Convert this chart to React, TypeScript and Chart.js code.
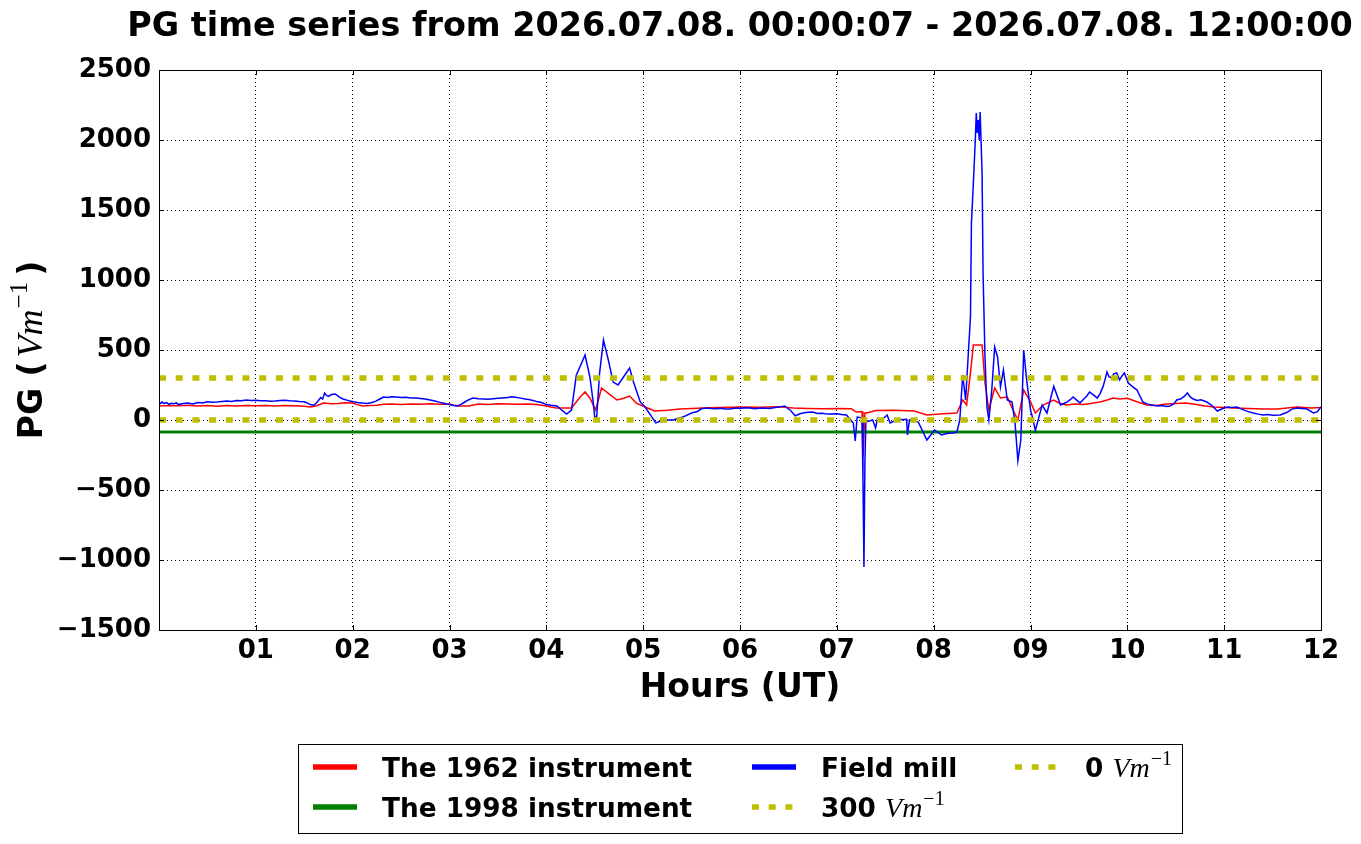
import { useEffect, useRef } from 'react'
import { Chart, registerables, type ChartConfiguration, type Plugin } from 'chart.js'

Chart.register(...registerables)

const SANS = '"DejaVu Sans", sans-serif'
const SERIF = '"Liberation Serif", "DejaVu Serif", serif'
const RED = '#ff0000'
const GREEN = '#008000'
const BLUE = '#0000ff'
const OLIVE = '#bfbf00'

const titleText = 'PG time series from 2026.07.08. 00:00:07 - 2026.07.08. 12:00:00'

// field mill (blue), hours UT and V/m
const fieldMillHours = [
  0.0, 0.03, 0.05, 0.08, 0.1, 0.13, 0.15, 0.18, 0.2, 0.25, 0.3, 0.35, 0.4, 0.45, 0.5, 0.55, 0.6,
  0.65, 0.7, 0.75, 0.8, 0.85, 0.9, 0.95, 1.0, 1.05, 1.1, 1.15, 1.2, 1.25, 1.3, 1.35, 1.4, 1.45,
  1.5, 1.53, 1.56, 1.6, 1.63, 1.67, 1.69, 1.71, 1.73, 1.75, 1.78, 1.82, 1.86, 1.9, 1.94, 1.97,
  2.01, 2.05, 2.1, 2.15, 2.2, 2.24, 2.28, 2.32, 2.36, 2.4, 2.45, 2.5, 2.55, 2.6, 2.66, 2.7, 2.75,
  2.8, 2.85, 2.9, 2.93, 2.97, 3.0, 3.04, 3.08, 3.12, 3.15, 3.2, 3.24, 3.3, 3.35, 3.4, 3.45, 3.5,
  3.55, 3.6, 3.64, 3.68, 3.72, 3.78, 3.82, 3.86, 3.9, 3.95, 4.0,
  4.05, 4.11, 4.16, 4.21, 4.26, 4.31, 4.36, 4.4, 4.45, 4.48, 4.5, 4.52, 4.55, 4.59, 4.64, 4.69,
  4.74, 4.79, 4.86, 4.9, 4.97, 5.02, 5.09, 5.13, 5.21, 5.31, 5.41, 5.5, 5.56, 5.6, 5.66, 5.7,
  5.75, 5.8, 5.85, 5.9, 5.95, 6.0, 6.05, 6.1, 6.15, 6.2, 6.24, 6.3, 6.35, 6.4, 6.46, 6.52, 6.57,
  6.62, 6.65, 6.7, 6.75, 6.8, 6.85, 6.9, 6.93, 7.0, 7.05, 7.1, 7.17, 7.19, 7.21,
  7.26, 7.27, 7.28, 7.29, 7.3, 7.37, 7.4, 7.42, 7.46, 7.52, 7.55, 7.62, 7.72, 7.73, 7.75, 7.84,
  7.93, 8.01, 8.08, 8.15, 8.2, 8.24, 8.27, 8.3, 8.33, 8.36, 8.38, 8.39, 8.41, 8.43, 8.44, 8.45,
  8.46, 8.47, 8.48, 8.5, 8.51, 8.53, 8.55, 8.57, 8.6, 8.63, 8.66, 8.69, 8.72, 8.76, 8.81, 8.84,
  8.87, 8.9, 8.93, 8.96, 9.0, 9.02, 9.05, 9.12, 9.17, 9.24,
  9.31, 9.35, 9.38, 9.41, 9.44, 9.48, 9.51, 9.55, 9.58, 9.61, 9.65, 9.69, 9.72, 9.75, 9.77, 9.79,
  9.81, 9.84, 9.86, 9.89, 9.92, 9.95, 9.97, 10.01, 10.05, 10.1, 10.13, 10.16, 10.2, 10.25, 10.31,
  10.36, 10.4, 10.44, 10.48, 10.51, 10.55, 10.59, 10.62, 10.65, 10.68, 10.72, 10.76, 10.82,
  10.87, 10.93, 10.98, 11.03, 11.08, 11.13, 11.2, 11.25, 11.3, 11.35, 11.4, 11.45, 11.5, 11.58,
  11.65, 11.7, 11.75, 11.8, 11.85, 11.9, 11.92, 11.96, 12.0,
]
const fieldMillValues = [
  110, 128, 118, 124, 112, 120, 116, 122, 110, 118, 121, 115, 125, 122, 130, 127, 128,
  133, 135, 132, 140, 138, 143, 139, 141, 137, 138, 134, 136, 139, 141, 137, 135, 132,
  130, 122, 110, 105, 125, 160, 150, 193, 175, 168, 182, 186, 165, 150, 142, 136,
  130, 125, 121, 118, 125, 135, 150, 164, 160, 166, 165, 161, 162, 158, 157, 154, 150,
  143, 135, 126, 121, 114, 110, 104, 100, 112, 125, 145, 157, 152, 150, 148, 152, 155,
  158, 160, 166, 162, 158, 150, 147, 140, 132, 125, 110,
  105, 100, 70, 43, 71, 321, 400, 464, 307, 150, 21, 21, 336, 571, 429, 271,
  250, 300, 371, 271, 129, 93, 21, -21, 0, 0, 21, 50, 60, 80, 86, 82,
  80, 84, 78, 79, 85, 82, 88, 85, 80, 84, 86, 83, 88, 92, 100, 70, 30,
  45, 50, 55, 57, 46, 48, 42, 43, 45, 40, 36, -21, -150, 21,
  15, -429, -1050, -300, -14, 0, -57, 10, 0, 36, -21, 0, 5, -107, 0, -14,
  -143, -71, -107, -95, -93, -86, 0, 321, 143, 500, 736, 1407, 1693, 2000, 2193, 2050,
  2143, 2000, 2200, 1764, 1050, 450, 93, 0, 214, 521, 450, 236, 357, 143, 129, -21,
  -290, -143, 500, 286, 71, 21, -75, 107, 50, 240,
  107, 120, 129, 145, 164, 140, 121, 150, 170, 200, 180, 157, 190, 240, 290, 343,
  310, 300, 330, 336, 286, 320, 336, 264, 240, 214, 170, 129, 115, 108, 100,
  104, 97, 100, 115, 143, 150, 170, 193, 165, 150, 140, 145, 129,
  105, 64, 80, 93, 90, 93, 72, 60, 50, 42, 36, 40, 34, 36,
  55, 78, 86, 82, 80, 60, 50, 58, 93,
]

// the 1962 instrument (red)
const inst1962Hours = [
  0.0, 0.1, 0.2, 0.3, 0.4, 0.5, 0.6, 0.7, 0.8, 0.9, 1.0, 1.1, 1.2, 1.3, 1.4, 1.5, 1.56, 1.62,
  1.7, 1.78, 1.85, 1.92, 2.0, 2.05, 2.1, 2.18, 2.25, 2.32, 2.4, 2.5, 2.6, 2.7, 2.8, 2.9, 3.0,
  3.05, 3.1, 3.2, 3.3, 3.4, 3.5, 3.6, 3.7, 3.8, 3.9, 4.0, 4.1, 4.26, 4.35, 4.4, 4.45, 4.51,
  4.57, 4.66, 4.73, 4.8, 4.86, 4.93, 5.02, 5.12, 5.25, 5.38, 5.5, 5.62, 5.8, 6.0, 6.2, 6.4,
  6.55, 6.7, 6.85, 7.0, 7.15, 7.2, 7.26, 7.27, 7.29, 7.31, 7.4, 7.6, 7.8, 7.93, 8.1, 8.24,
  8.3, 8.34, 8.38, 8.41, 8.5, 8.53, 8.57, 8.63, 8.69, 8.76, 8.82, 8.87, 8.93, 9.0, 9.05, 9.13,
  9.24, 9.3, 9.37, 9.45, 9.55, 9.65, 9.72, 9.8, 9.85, 9.92, 10.0, 10.1, 10.2, 10.3, 10.4,
  10.5, 10.6, 10.7, 10.8, 10.9, 11.0, 11.1, 11.25, 11.4, 11.55, 11.75, 11.9, 12.0,
]
const inst1962Values = [
  100, 104, 101, 106, 100, 103, 99, 104, 100, 103, 101, 104, 100, 103, 101, 98, 93, 100,
  121, 116, 118, 123, 121, 110, 100, 103, 105, 112, 114, 111, 115, 112, 116, 113, 114,
  106, 100, 100, 114, 111, 116, 114, 112, 115, 110, 100, 86, 86, 164, 200, 157, 71,
  229, 179, 143, 155, 171, 121, 93, 64, 70, 79, 82, 86, 90, 93, 91, 95,
  86, 82, 80, 82, 80, 57, 60, -264, 50, 50, 68, 70, 64, 36, 45, 50,
  143, 107, 336, 536, 536, 264, 71, 229, 157, 164, 71, 0, 214, 129, 50, 107,
  143, 120, 107, 115, 110, 122, 129, 145, 157, 150, 155, 130, 107, 104, 115,
  118, 121, 112, 100, 93, 90, 85, 82, 79, 78, 93, 85, 90,
]

// horizontal reference lines
const refHours = [0, 12]
const inst1998Values = [-85, -85]
const level300Values = [300, 300]
const level0Values = [0, 0]

const pts = (xs: number[], ys: number[]) => xs.map((x, i) => ({ x, y: ys[i] }))

type LegendItem = { text: string; math: boolean; color: string; dotted: boolean; col: number; row: number }
const legendItems: LegendItem[] = [
  { text: 'The 1962 instrument', math: false, color: RED, dotted: false, col: 0, row: 0 },
  { text: 'The 1998 instrument', math: false, color: GREEN, dotted: false, col: 0, row: 1 },
  { text: 'Field mill', math: false, color: BLUE, dotted: false, col: 1, row: 0 },
  { text: '300 ', math: true, color: OLIVE, dotted: true, col: 1, row: 1 },
  { text: '0 ', math: true, color: OLIVE, dotted: true, col: 2, row: 0 },
]

function drawVm(ctx: CanvasRenderingContext2D, x: number, base: number, size: number) {
  ctx.font = `italic ${size}px ${SERIF}`
  ctx.fillText('Vm', x, base)
  const w = ctx.measureText('Vm').width
  const sup = Math.round(size * 0.7)
  ctx.font = `${sup}px ${SERIF}`
  ctx.fillText('\u22121', x + w + 1, base - size * 0.42)
  return w + 1 + ctx.measureText('\u22121').width
}

const decor: Plugin<'line'> = {
  id: 'decor',
  afterDraw(chart) {
    const { ctx, chartArea: a } = chart
    const xs = chart.scales.x
    const ys = chart.scales.y
    ctx.save()
    ctx.setLineDash([])
    ctx.strokeStyle = '#000'
    ctx.lineWidth = 1
    ctx.beginPath()
    xs.ticks.forEach((t) => {
      const px = Math.round(xs.getPixelForValue(t.value)) + 0.5
      ctx.moveTo(px, a.top)
      ctx.lineTo(px, a.top + 5)
      ctx.moveTo(px, a.bottom)
      ctx.lineTo(px, a.bottom - 5)
    })
    ys.ticks.forEach((t) => {
      const py = Math.round(ys.getPixelForValue(t.value)) + 0.5
      ctx.moveTo(a.left, py)
      ctx.lineTo(a.left + 5, py)
      ctx.moveTo(a.right, py)
      ctx.lineTo(a.right - 5, py)
    })
    ctx.stroke()
    ctx.strokeRect(a.left + 0.5, a.top + 0.5, a.right - a.left, a.bottom - a.top)

    ctx.fillStyle = '#000'
    const cx = (a.left + a.right) / 2
    ctx.textAlign = 'center'
    ctx.textBaseline = 'alphabetic'
    ctx.font = `bold 33.4px ${SANS}`
    ctx.fillText(titleText, cx, 36)
    ctx.font = `bold 33px ${SANS}`
    ctx.fillText('Hours (UT)', cx, 697)

    // y axis title, rotated
    ctx.save()
    ctx.translate(42, (a.top + a.bottom) / 2)
    ctx.rotate(-Math.PI / 2)
    ctx.textAlign = 'left'
    ctx.font = `bold 33px ${SANS}`
    const p1 = 'PG ('
    const w1 = ctx.measureText(p1).width
    ctx.font = `italic 36px ${SERIF}`
    const wv = ctx.measureText('Vm').width
    ctx.font = `25px ${SERIF}`
    const ws = ctx.measureText('\u22121').width
    ctx.font = `bold 33px ${SANS}`
    const w3 = ctx.measureText(')').width
    const total = w1 + 4 + wv + 1 + ws + 6 + w3
    let x = -total / 2
    ctx.fillText(p1, x, 0)
    x += w1 + 4
    x += drawVm(ctx, x, 0, 36) + 6
    ctx.font = `bold 33px ${SANS}`
    ctx.fillText(')', x, 0)
    ctx.restore()

    // legend
    ctx.strokeStyle = '#000'
    ctx.lineWidth = 1
    ctx.strokeRect(298.5, 744.5, 884, 89)
    const sampleX = [313, 752, 1015]
    const textX = [382, 821, 1085]
    const rowY = [767, 807]
    legendItems.forEach((it) => {
      const y = rowY[it.row]
      ctx.beginPath()
      ctx.strokeStyle = it.color
      ctx.lineWidth = 5.5
      ctx.setLineDash(it.dotted ? [7, 9.7] : [])
      ctx.moveTo(sampleX[it.col], y)
      ctx.lineTo(sampleX[it.col] + 44, y)
      ctx.stroke()
      ctx.setLineDash([])
      ctx.fillStyle = '#000'
      ctx.textAlign = 'left'
      ctx.font = `bold 26.3px ${SANS}`
      ctx.fillText(it.text, textX[it.col], y + 10)
      if (it.math) {
        const tw = ctx.measureText(it.text).width
        drawVm(ctx, textX[it.col] + tw, y + 10, 28)
      }
    })
    ctx.restore()
  },
}

const tickFont = { family: SANS, size: 26, weight: 'bold' as const }

const chartConfig: ChartConfiguration<'line'> = {
  type: 'line',
  data: {
    datasets: [
      { label: 'The 1962 instrument', data: pts(inst1962Hours, inst1962Values), borderColor: RED, borderWidth: 1.5, order: 5 },
      { label: 'The 1998 instrument', data: pts(refHours, inst1998Values), borderColor: GREEN, borderWidth: 3, order: 4 },
      { label: 'Field mill', data: pts(fieldMillHours, fieldMillValues), borderColor: BLUE, borderWidth: 1.5, order: 3 },
      { label: '300 Vm-1', data: pts(refHours, level300Values), borderColor: OLIVE, borderWidth: 5.5, borderDash: [7, 9.7], order: 2 },
      { label: '0 Vm-1', data: pts(refHours, level0Values), borderColor: OLIVE, borderWidth: 5.5, borderDash: [7, 9.7], order: 1 },
    ],
  },
  options: {
    animation: false,
    responsive: true,
    maintainAspectRatio: false,
    layout: { padding: { top: 70, right: 40, bottom: 0, left: 0 } },
    elements: { point: { radius: 0 }, line: { tension: 0 } },
    plugins: {
      legend: { display: false },
      title: { display: false },
      tooltip: { enabled: false },
    },
    scales: {
      x: {
        type: 'linear',
        min: 0,
        max: 12,
        afterFit: (s) => {
          s.height = 214
        },
        ticks: {
          stepSize: 1,
          padding: 6,
          color: '#000',
          font: tickFont,
          maxRotation: 0,
          autoSkip: false,
          callback: (v) => (Number(v) === 0 ? '' : String(v).padStart(2, '0')),
        },
        grid: { color: '#000', lineWidth: 1, drawTicks: false },
        border: { display: false, dash: [1, 3] },
      },
      y: {
        type: 'linear',
        min: -1500,
        max: 2500,
        afterFit: (s) => {
          s.width = 159
        },
        ticks: {
          stepSize: 500,
          padding: 8,
          color: '#000',
          font: tickFont,
          callback: (v) => (Number(v) < 0 ? '\u2212' + Math.abs(Number(v)) : String(v)),
        },
        grid: { color: '#000', lineWidth: 1, drawTicks: false },
        border: { display: false, dash: [1, 3] },
      },
    },
  },
  plugins: [decor],
}

export default function App() {
  const canvasRef = useRef<HTMLCanvasElement | null>(null)

  useEffect(() => {
    document.body.style.margin = '0'
    if (!canvasRef.current) {
      return
    }
    const chart = new Chart(canvasRef.current, chartConfig)
    return () => {
      chart.destroy()
    }
  }, [])

  return (
    <div style={{ position: 'relative', width: 1361, height: 844, background: '#fff' }}>
      <canvas ref={canvasRef} aria-label="PG time series chart" />
    </div>
  )
}
